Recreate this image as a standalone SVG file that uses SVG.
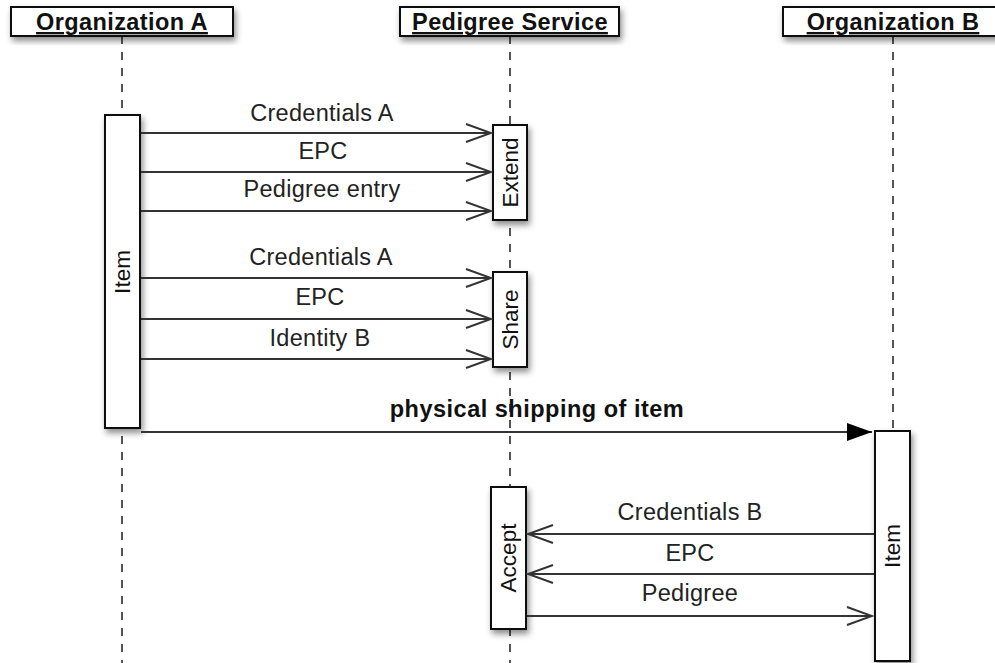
<svg xmlns="http://www.w3.org/2000/svg" width="995" height="663" viewBox="0 0 995 663">
  <style>
    .hdr { fill: #fff; stroke: #111; stroke-width: 2; }
    .act { fill: #fff; stroke: #111; stroke-width: 2; }
    .life { stroke: #555; stroke-width: 2; stroke-dasharray: 8 8; fill: none; }
    .msg { stroke: #333; stroke-width: 2; fill: none; }
    .ht { font-family: "Liberation Sans", Arial, sans-serif; font-weight: bold; font-size: 23.5px; letter-spacing: 0.4px; fill: #111; text-anchor: middle; text-decoration: underline; }
    .lbl { font-family: "Liberation Sans", Arial, sans-serif; font-size: 23.5px; letter-spacing: 0.3px; fill: #222; text-anchor: middle; }
    .bl { font-family: "Liberation Sans", Arial, sans-serif; font-weight: bold; font-size: 23.5px; letter-spacing: 0.5px; fill: #111; text-anchor: middle; }
    .rt { font-family: "Liberation Sans", Arial, sans-serif; font-size: 22.5px; fill: #111; text-anchor: middle; dominant-baseline: central; }
  </style>
  <defs>
    <filter id="sh" x="-30%" y="-30%" width="160%" height="160%">
      <feDropShadow dx="2" dy="4" stdDeviation="3" flood-color="#000" flood-opacity="0.45"/>
    </filter>
    <marker id="open" viewBox="-27 -11 29 22" markerWidth="29" markerHeight="22" refX="0" refY="0" orient="auto" markerUnits="userSpaceOnUse">
      <path d="M -25 -9 L 0 0 L -25 9" fill="none" stroke="#333" stroke-width="2"/>
    </marker>
    <marker id="fill" viewBox="-27 -11 29 22" markerWidth="29" markerHeight="22" refX="0" refY="0" orient="auto" markerUnits="userSpaceOnUse">
      <path d="M -25 -9 L 0 0 L -25 9 Z" fill="#000"/>
    </marker>
  </defs>
  <rect width="995" height="663" fill="#fff"/>

  <g id="lifelines">
    <line class="life" x1="122" y1="36" x2="122" y2="663"/>
    <line class="life" x1="510" y1="36" x2="510" y2="663"/>
    <line class="life" x1="893" y1="36" x2="893" y2="431"/>
  </g>

  <g id="orgA">
    <rect class="hdr" x="11" y="7" width="222" height="29" filter="url(#sh)"/>
    <text class="ht" x="122" y="30">Organization A</text>
  </g>
  <g id="pedigree">
    <rect class="hdr" x="400" y="7" width="219" height="29" filter="url(#sh)"/>
    <text class="ht" x="510" y="30">Pedigree Service</text>
  </g>
  <g id="orgB">
    <rect class="hdr" x="783" y="7" width="225" height="29" filter="url(#sh)"/>
    <text class="ht" x="893" y="30">Organization B</text>
  </g>

  <g id="itemA">
    <rect class="act" x="105" y="115" width="35" height="313" filter="url(#sh)"/>
    <text class="rt" transform="translate(122 272) rotate(-90)">Item</text>
  </g>
  <g id="extend">
    <rect class="act" x="493" y="125" width="34" height="95" filter="url(#sh)"/>
    <text class="rt" transform="translate(510 172.5) rotate(-90)">Extend</text>
  </g>
  <g id="share">
    <rect class="act" x="493" y="272" width="34" height="95" filter="url(#sh)"/>
    <text class="rt" transform="translate(510 319.5) rotate(-90)">Share</text>
  </g>
  <g id="accept">
    <rect class="act" x="491" y="487" width="35" height="142" filter="url(#sh)"/>
    <text class="rt" transform="translate(508.5 558) rotate(-90)">Accept</text>
  </g>
  <g id="itemB">
    <rect class="act" x="875" y="431" width="35" height="230" filter="url(#sh)"/>
    <text class="rt" transform="translate(892.5 546) rotate(-90)">Item</text>
  </g>

  <g id="connectors">
    <line class="msg" x1="141" y1="133" x2="491" y2="133" marker-end="url(#open)"/>
    <text class="lbl" x="322" y="121">Credentials A</text>
    <line class="msg" x1="141" y1="172" x2="491" y2="172" marker-end="url(#open)"/>
    <text class="lbl" x="323" y="159">EPC</text>
    <line class="msg" x1="141" y1="211" x2="491" y2="211" marker-end="url(#open)"/>
    <text class="lbl" x="322" y="197">Pedigree entry</text>

    <line class="msg" x1="141" y1="278" x2="491" y2="278" marker-end="url(#open)"/>
    <text class="lbl" x="321" y="265">Credentials A</text>
    <line class="msg" x1="141" y1="319" x2="491" y2="319" marker-end="url(#open)"/>
    <text class="lbl" x="320" y="305">EPC</text>
    <line class="msg" x1="141" y1="359" x2="491" y2="359" marker-end="url(#open)"/>
    <text class="lbl" x="320" y="346">Identity B</text>

    <line class="msg" x1="141" y1="432" x2="872" y2="432" marker-end="url(#fill)"/>
    <text class="bl" x="537" y="417">physical shipping of item</text>

    <line class="msg" x1="874" y1="534" x2="528" y2="534" marker-end="url(#open)"/>
    <text class="lbl" x="690" y="520">Credentials B</text>
    <line class="msg" x1="874" y1="574" x2="528" y2="574" marker-end="url(#open)"/>
    <text class="lbl" x="690" y="561">EPC</text>
    <line class="msg" x1="527" y1="616" x2="872" y2="616" marker-end="url(#open)"/>
    <text class="lbl" x="690" y="601">Pedigree</text>
  </g>
</svg>
